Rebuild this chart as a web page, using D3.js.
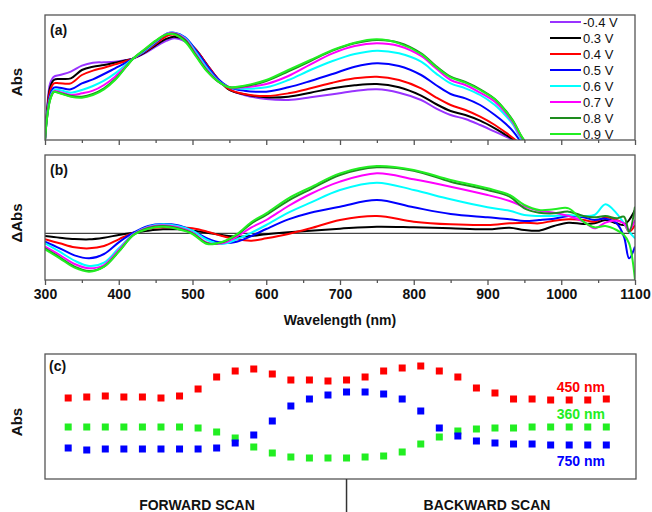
<!DOCTYPE html>
<meta charset="utf-8">
<style>
body { margin: 0; background: #fff; }
text { font-family: Arial, "Liberation Sans", sans-serif; }
</style>
<body>
<script src="https://cdn.jsdelivr.net/npm/d3@7"></script>
<script>
var width = 652, height = 512;

// series names and colours
var voltages = ["-0.4 V", "0.3 V", "0.4 V", "0.5 V", "0.6 V", "0.7 V", "0.8 V", "0.9 V"];
var colors = ["#9933ff", "#000000", "#ff0000", "#0000ff", "#00ffff", "#ff00ff", "#1e8c1e", "#22ee22"];

// (a) absorbance spectra
var wlA = [300,303,307,312,320,335,350,365,380,395,410,420,435,450,465,475,490,505,520,535,550,570,600,630,660,690,720,750,780,810,830,850,870,890,910,925,935,945,950];
var absNeg04 = [0,1.00,1.70,1.90,1.95,2.05,2.23,2.32,2.33,2.35,2.40,2.45,2.60,2.80,2.98,3.05,2.95,2.68,2.25,1.82,1.52,1.35,1.23,1.20,1.28,1.37,1.47,1.52,1.42,1.20,0.95,0.75,0.63,0.45,0.25,0.10,-0.02,-0.30,-0.50];
var abs03 = [0,0.90,1.58,1.80,1.83,1.85,2.10,2.20,2.25,2.32,2.39,2.45,2.62,2.84,3.04,3.10,3.00,2.70,2.25,1.82,1.50,1.37,1.28,1.30,1.42,1.55,1.64,1.68,1.58,1.33,1.08,0.87,0.75,0.58,0.35,0.15,0.02,-0.20,-0.40];
var abs04 = [0,0.85,1.48,1.70,1.70,1.70,1.95,2.08,2.17,2.27,2.37,2.45,2.64,2.88,3.12,3.16,3.02,2.70,2.25,1.82,1.52,1.38,1.32,1.40,1.55,1.72,1.85,1.90,1.80,1.55,1.28,1.05,0.90,0.70,0.45,0.22,0.05,-0.15,-0.35];
var abs05 = [0,0.80,1.35,1.57,1.57,1.52,1.70,1.82,1.98,2.15,2.32,2.45,2.66,2.92,3.19,3.22,3.08,2.68,2.22,1.82,1.58,1.48,1.45,1.58,1.77,1.98,2.20,2.30,2.22,1.95,1.65,1.38,1.25,1.05,0.75,0.48,0.25,-0.05,-0.20];
var abs06 = [0,0.75,1.28,1.50,1.50,1.42,1.50,1.62,1.78,2.00,2.27,2.45,2.68,2.94,3.19,3.21,3.06,2.62,2.15,1.78,1.58,1.54,1.58,1.80,2.10,2.37,2.58,2.68,2.60,2.35,2.00,1.70,1.55,1.35,1.05,0.72,0.45,0.05,-0.05];
var abs07 = [0,0.72,1.24,1.46,1.44,1.35,1.40,1.48,1.65,1.90,2.22,2.45,2.70,2.96,3.18,3.20,3.03,2.57,2.10,1.76,1.58,1.58,1.68,1.92,2.27,2.60,2.82,2.90,2.82,2.52,2.15,1.80,1.65,1.42,1.15,0.80,0.50,0.10,-0.02];
var abs08 = [0,0.70,1.22,1.44,1.41,1.32,1.30,1.38,1.55,1.82,2.20,2.45,2.71,2.97,3.17,3.19,3.00,2.53,2.07,1.75,1.58,1.61,1.77,2.06,2.37,2.68,2.90,3.00,2.92,2.60,2.22,1.90,1.74,1.52,1.23,0.87,0.57,0.15,-0.02];
var abs09 = [0,0.70,1.20,1.44,1.40,1.30,1.27,1.35,1.52,1.80,2.20,2.45,2.72,2.98,3.17,3.17,2.95,2.50,2.05,1.75,1.58,1.63,1.80,2.10,2.40,2.70,2.92,3.02,2.90,2.58,2.20,1.88,1.72,1.50,1.22,0.85,0.55,0.15,-0.02];

// (b) difference spectra vs -0.4 V
var wlB = [300,320,340,360,380,400,420,440,460,480,500,520,540,560,580,600,630,660,700,750,800,850,900,930,950,970,990,1010,1030,1045,1060,1075,1085,1092,1100];
var dAbs03 = [-0.08,-0.13,-0.17,-0.18,-0.13,-0.05,0.02,0.08,0.12,0.12,0.08,0.02,-0.05,-0.10,-0.08,-0.03,0.03,0.08,0.14,0.20,0.18,0.15,0.12,0.17,0.10,0.08,0.22,0.32,0.28,0.30,0.40,0.30,0.25,0.40,0.70];
var dAbs04 = [-0.18,-0.30,-0.42,-0.45,-0.38,-0.18,0.02,0.14,0.18,0.18,0.15,0.05,-0.08,-0.18,-0.22,-0.15,-0.02,0.15,0.40,0.52,0.35,0.27,0.25,0.30,0.32,0.30,0.38,0.42,0.40,0.35,0.48,0.40,0.30,0.05,0.25];
var dAbs05 = [-0.25,-0.45,-0.66,-0.75,-0.62,-0.27,0.02,0.22,0.28,0.24,0.08,-0.15,-0.28,-0.25,-0.08,0.13,0.42,0.62,0.80,1.00,0.78,0.58,0.48,0.42,0.37,0.40,0.44,0.52,0.48,0.40,0.44,0.30,-0.10,-0.75,-0.40];
var dAbs06 = [-0.30,-0.55,-0.82,-0.98,-0.88,-0.45,-0.02,0.20,0.27,0.22,0.08,-0.20,-0.32,-0.18,0.02,0.25,0.62,0.92,1.30,1.52,1.30,1.02,0.78,0.68,0.55,0.52,0.52,0.55,0.52,0.55,0.87,0.60,0.30,0.05,-0.15];
var dAbs07 = [-0.40,-0.65,-0.92,-1.05,-0.95,-0.50,-0.03,0.18,0.24,0.18,0.02,-0.28,-0.30,-0.10,0.18,0.40,0.82,1.18,1.55,1.80,1.62,1.40,1.15,0.97,0.80,0.68,0.62,0.52,0.35,0.15,0.32,0.38,0.30,0.10,0.40];
var dAbs08 = [-0.45,-0.72,-1.00,-1.13,-1.00,-0.55,-0.05,0.16,0.22,0.15,0.00,-0.30,-0.27,-0.05,0.30,0.55,0.98,1.32,1.75,1.98,1.88,1.55,1.30,1.10,0.75,0.62,0.60,0.65,0.52,0.48,0.52,0.45,0.50,0.05,0.80];
var dAbs09 = [-0.48,-0.75,-1.03,-1.15,-1.00,-0.55,-0.05,0.14,0.20,0.13,-0.02,-0.32,-0.26,-0.03,0.34,0.60,1.05,1.38,1.80,2.02,1.90,1.60,1.35,1.15,0.85,0.70,0.72,0.75,0.35,0.18,0.22,0.10,-0.05,-0.30,-1.40];

// (c) absorbance at three wavelengths over the scan (30 steps, turn at 15)
var scan450 = [0.81,0.82,0.83,0.82,0.82,0.81,0.83,0.90,1.02,1.08,1.10,1.05,0.99,0.99,0.98,0.99,1.02,1.08,1.11,1.13,1.08,1.02,0.91,0.86,0.80,0.80,0.79,0.79,0.79,0.80];
var scan360 = [0.52,0.52,0.52,0.52,0.52,0.52,0.52,0.51,0.47,0.41,0.32,0.26,0.22,0.21,0.21,0.21,0.22,0.23,0.27,0.35,0.42,0.48,0.50,0.51,0.51,0.52,0.52,0.52,0.52,0.52];
var scan750 = [0.31,0.29,0.30,0.30,0.30,0.30,0.30,0.30,0.31,0.36,0.44,0.58,0.73,0.80,0.84,0.87,0.87,0.85,0.80,0.68,0.51,0.43,0.38,0.36,0.35,0.35,0.34,0.34,0.34,0.34];
var scanTurn = 15;
var scanLabels = ["450 nm", "360 nm", "750 nm"];
var scanColors = ["#ff0000", "#22ee22", "#0000ff"];

var specA = [absNeg04, abs03, abs04, abs05, abs06, abs07, abs08, abs09];
var specB = [dAbs03, dAbs04, dAbs05, dAbs06, dAbs07, dAbs08, dAbs09];

var svg = d3.select("body").append("svg")
    .attr("width", width)
    .attr("height", height)
    .style("background", "#fff");

// scales
var x = d3.scaleLinear().domain([300, 1100]).range([45, 635]);
var ya = d3.scaleLinear().domain([0, 3.75]).range([140, 15]);
var yb = d3.scaleLinear().domain([-1.40, 2.35]).range([280, 155]);
var xc = d3.scaleLinear().domain([-1.25, 30.6]).range([45, 636]);
var yc = d3.scaleLinear().domain([0, 1.25]).range([479, 354]);

var frameColor = "#555";

function panel(id, x0, y0, x1, y1) {
  svg.append("clipPath").attr("id", id)
    .append("rect").attr("x", x0).attr("y", y0).attr("width", x1 - x0).attr("height", y1 - y0);
  var g = svg.append("g").attr("clip-path", "url(#" + id + ")");
  return g;
}

function frame(x0, y0, x1, y1) {
  svg.append("rect")
    .attr("x", x0).attr("y", y0).attr("width", x1 - x0).attr("height", y1 - y0)
    .attr("fill", "none").attr("stroke", frameColor).attr("stroke-width", 1.3);
}

function xAxis(y, labels) {
  var minor = svg.append("g")
      .attr("transform", "translate(0," + y + ")")
      .call(d3.axisBottom(x).tickValues(d3.range(350, 1100, 100)).tickSize(3).tickFormat(""));
  var major = svg.append("g")
      .attr("transform", "translate(0," + y + ")")
      .call(d3.axisBottom(x).tickValues(d3.range(300, 1101, 100)).tickSize(5)
        .tickPadding(4).tickFormat(labels ? d3.format("d") : ""));
  [minor, major].forEach(function(g) {
    g.select(".domain").remove();
    g.selectAll("line").attr("stroke", frameColor).attr("stroke-width", 1.3);
  });
  major.selectAll("text")
    .attr("font-family", "Arial, 'Liberation Sans', sans-serif")
    .attr("font-size", 14).attr("font-weight", "bold").attr("fill", "#111");
}

function yLabel(txt, cy) {
  svg.append("text")
    .attr("transform", "translate(22," + cy + ") rotate(-90)")
    .attr("text-anchor", "middle")
    .attr("font-size", 15).attr("font-weight", "bold").attr("fill", "#111")
    .text(txt);
}

function tag(txt, tx, ty) {
  svg.append("text").attr("x", tx).attr("y", ty)
    .attr("font-size", 14).attr("font-weight", "bold").attr("fill", "#111")
    .text(txt);
}

// ---- (a)
var ga = panel("clipA", 45, 15, 635, 140);
var lineA = d3.line().x(function(d) { return x(d[0]); }).y(function(d) { return ya(d[1]); })
    .curve(d3.curveCatmullRom.alpha(0.5));
specA.forEach(function(s, i) {
  ga.append("path")
    .datum(wlA.map(function(w, j) { return [w, s[j]]; }))
    .attr("fill", "none").attr("stroke", colors[i]).attr("stroke-width", 2)
    .attr("d", lineA);
});
frame(45, 15, 635, 140);
xAxis(140, false);
tag("(a)", 50, 35);
yLabel("Abs", 82);

// legend
var leg = svg.append("g");
voltages.forEach(function(v, i) {
  var ly = 22 + i * 16;
  leg.append("line").attr("x1", 550).attr("x2", 581).attr("y1", ly).attr("y2", ly)
    .attr("stroke", colors[i]).attr("stroke-width", 2);
  leg.append("text").attr("x", 583).attr("y", ly + 5)
    .attr("font-size", 13).attr("fill", "#111").text(v);
});

// ---- (b)
var gb = panel("clipB", 45, 155, 635, 280);
gb.append("line").attr("x1", 45).attr("x2", 635).attr("y1", yb(0)).attr("y2", yb(0))
  .attr("stroke", "#444").attr("stroke-width", 1.2);
var lineB = d3.line().x(function(d) { return x(d[0]); }).y(function(d) { return yb(d[1]); })
    .curve(d3.curveCatmullRom.alpha(0.5));
specB.forEach(function(s, i) {
  gb.append("path")
    .datum(wlB.map(function(w, j) { return [w, s[j]]; }))
    .attr("fill", "none").attr("stroke", colors[i + 1]).attr("stroke-width", 2)
    .attr("d", lineB);
});
frame(45, 155, 635, 280);
xAxis(280, true);
tag("(b)", 50, 175);
yLabel("\u0394Abs", 223);

svg.append("text").attr("x", 340).attr("y", 325)
  .attr("text-anchor", "middle").attr("font-size", 14).attr("font-weight", "bold")
  .attr("fill", "#111").text("Wavelength (nm)");

// ---- (c)
var gc = svg.append("g");
[scan450, scan360, scan750].forEach(function(s, i) {
  gc.selectAll(null).data(s).enter().append("rect")
    .attr("x", function(d, j) { return xc(j) - 3.5; })
    .attr("y", function(d) { return yc(d) - 3.5; })
    .attr("width", 7).attr("height", 7)
    .attr("fill", scanColors[i]);
});
frame(45, 354, 636, 479);
tag("(c)", 49, 371);
yLabel("Abs", 422);

var labelY = [scan450, scan360, scan750].map(function(s) { return s[s.length - 1]; });
[392, 419, 466].forEach(function(by, i) {
  svg.append("text").attr("x", 605).attr("y", by)
    .attr("text-anchor", "end").attr("font-size", 14).attr("font-weight", "bold")
    .attr("fill", scanColors[i]).text(scanLabels[i]);
});

// forward / backward divider
svg.append("line").attr("x1", xc(scanTurn)).attr("x2", xc(scanTurn))
  .attr("y1", 479).attr("y2", 512).attr("stroke", "#333").attr("stroke-width", 1.5);
svg.append("text").attr("x", 197).attr("y", 510).attr("text-anchor", "middle")
  .attr("font-size", 14).attr("font-weight", "bold").attr("fill", "#111").text("FORWARD SCAN");
svg.append("text").attr("x", 487).attr("y", 510).attr("text-anchor", "middle")
  .attr("font-size", 14).attr("font-weight", "bold").attr("fill", "#111").text("BACKWARD SCAN");
</script>
</body>
